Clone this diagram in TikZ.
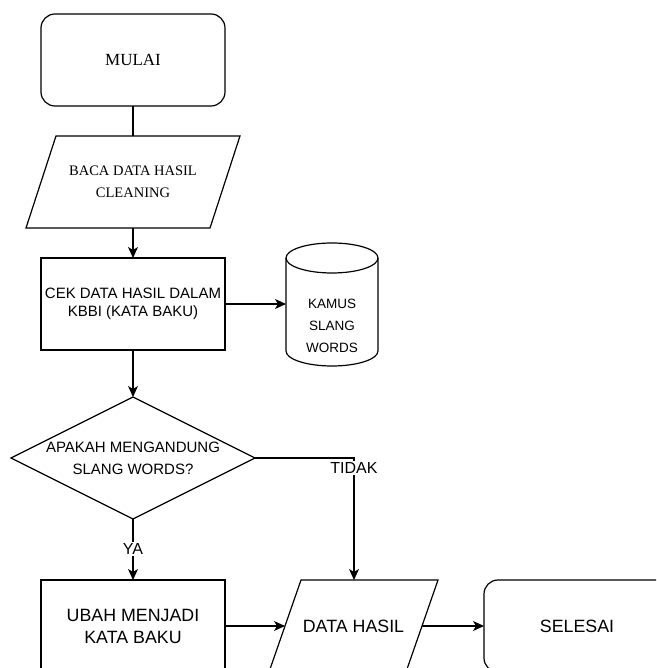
\documentclass[tikz,border=0pt]{standalone}
\usepackage{fontspec}
\setmainfont{Liberation Serif}
\setsansfont{Liberation Sans}
\usetikzlibrary{arrows.meta}

\begin{document}
\begin{tikzpicture}[x=1pt,y=1pt,
    line width=1.2pt,
    every node/.style={inner sep=0pt,outer sep=0pt},
    box/.style={rectangle,draw,minimum width=184pt,minimum height=92pt},
    roundbox/.style={box,rounded corners=14pt},
    frame/.style={rectangle,minimum width=#1,minimum height=92pt},
    serifA/.style={font=\fontsize{17}{20}\selectfont},
    serifB/.style={font=\fontsize{14.5}{22}\selectfont,align=center},
    sansA/.style={font=\sffamily\fontsize{15}{18.5}\selectfont,align=center},
    sansD/.style={font=\sffamily\fontsize{15}{22}\selectfont,align=center},
    sansC/.style={font=\sffamily\fontsize{13.5}{22}\selectfont,align=center},
    sansB/.style={font=\sffamily\fontsize{17.8}{22}\selectfont,align=center},
    lbl/.style={font=\sffamily\fontsize{16}{18}\selectfont,fill=white,inner sep=1pt},
    flow/.style={-{Stealth[length=11pt,width=10pt,inset=3pt]}},
  ]
  \useasboundingbox (0,0) rectangle (656,668);
  \clip (0,0) rectangle (656,668);

  % start terminal
  \node[roundbox,serifA] (mulai) at (133,608) {MULAI};

  % input: read cleaned data
  \node[frame=184pt] (baca) at (133,486) {};
  \draw ([xshift=15pt]baca.north west) -- ([xshift=15pt]baca.north east)
     -- ([xshift=-15pt]baca.south east) -- ([xshift=-15pt]baca.south west) -- cycle;
  \node[serifB] at (baca.center) {BACA DATA HASIL\\CLEANING};

  % process: check against KBBI
  \node[box,sansA] (cek) at (133,364) {CEK DATA HASIL DALAM\\KBBI (KATA BAKU)};

  % database: slang dictionary
  \node[rectangle,minimum width=92pt,minimum height=123pt] (kamus) at (332,363.5) {};
  \draw ([yshift=-15pt]kamus.north west) -- ([yshift=15pt]kamus.south west)
     arc[start angle=180,end angle=360,x radius=46pt,y radius=15pt]
     -- ([yshift=-15pt]kamus.north east)
     arc[start angle=0,end angle=180,x radius=46pt,y radius=15pt];
  \draw ([yshift=-15pt]kamus.north west)
     arc[start angle=180,end angle=360,x radius=46pt,y radius=15pt];
  \node[sansC] at (332,342) {KAMUS\\SLANG\\WORDS};

  % decision
  \node[rectangle,minimum width=244pt,minimum height=122pt] (dec) at (133,210) {};
  \draw (dec.north) -- (dec.east) -- (dec.south) -- (dec.west) -- cycle;
  \node[sansD] at (dec.center) {APAKAH MENGANDUNG\\SLANG WORDS?};

  % convert to standard words
  \node[box,sansB] (ubah) at (133,42) {UBAH MENJADI\\KATA BAKU};

  % output data
  \node[frame=137pt] (hasil) at (353.5,42) {};
  \draw ([xshift=16pt]hasil.north west) -- ([xshift=16pt]hasil.north east)
     -- ([xshift=-16pt]hasil.south east) -- ([xshift=-16pt]hasil.south west) -- cycle;
  \node[sansB] at (hasil.center) {DATA HASIL};
  \coordinate (hasilL) at (285,42);
  \coordinate (hasilR) at (422,42);

  % end terminal
  \node[rectangle,draw,rounded corners=14pt,minimum width=186pt,minimum height=92pt,sansB]
     (selesai) at (577,42) {SELESAI};

  % connectors
  \draw (mulai.south) -- (baca.north);
  \draw[flow] (baca.south) -- (cek.north);
  \draw[flow] (cek.east) -- (kamus.west |- cek.east);
  \draw[flow] (cek.south) -- (dec.north);
  \coordinate (bend) at (354,210);
  \draw[flow] (dec.east) -- (bend) -- (bend |- hasil.north);
  \node[lbl] (tidak) at (354,200) {TIDAK};
  \draw[flow] (dec.south) -- (ubah.north);
  \node[lbl] (ya) at (133,119) {YA};
  \draw[flow] (ubah.east) -- (hasilL);
  \draw[flow] (hasilR) -- (selesai.west);
\end{tikzpicture}
\end{document}
